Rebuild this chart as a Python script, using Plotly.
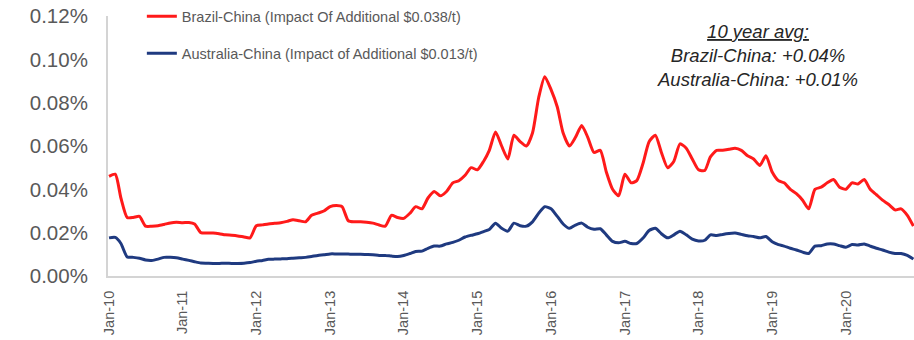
import pandas as pd
import plotly.graph_objects as go

# Monthly series, Jan-2010 onwards (values in %)
months = pd.date_range("2010-01-01", periods=132, freq="MS")

brazil_china = [
    0.046, 0.047, 0.036, 0.027, 0.027, 0.0275, 0.023, 0.023, 0.0232, 0.0238, 0.0245, 0.0248,
    0.0246, 0.0247, 0.024, 0.020, 0.0198, 0.0198, 0.0195, 0.019, 0.0188, 0.0185, 0.018, 0.0176,
    0.0232, 0.0236, 0.024, 0.0243, 0.0246, 0.0252, 0.026, 0.0255, 0.025, 0.028, 0.029, 0.030,
    0.032, 0.0325, 0.032, 0.0255, 0.025, 0.025, 0.0248, 0.0244, 0.0235, 0.023, 0.028, 0.027,
    0.0266, 0.029, 0.032, 0.031, 0.036, 0.039, 0.037, 0.039, 0.043, 0.044, 0.0465, 0.050,
    0.049, 0.053, 0.058, 0.0665, 0.060, 0.054, 0.065, 0.062, 0.060, 0.066, 0.0825, 0.092,
    0.086, 0.078, 0.066, 0.060, 0.064, 0.0695, 0.064, 0.057, 0.058, 0.048, 0.040, 0.037,
    0.047, 0.043, 0.044, 0.052, 0.062, 0.065, 0.057, 0.050, 0.053, 0.061, 0.059, 0.054,
    0.049, 0.0487, 0.055, 0.058, 0.058, 0.0585, 0.059, 0.058, 0.0555, 0.054, 0.051, 0.0555,
    0.048, 0.044, 0.043, 0.040, 0.038, 0.035, 0.031, 0.040, 0.041, 0.043, 0.0445, 0.041,
    0.040, 0.043, 0.0425, 0.0445, 0.040, 0.0375, 0.035, 0.033, 0.0305, 0.031, 0.028, 0.023,
]

australia_china = [
    0.0176, 0.0178, 0.015, 0.0088, 0.0086, 0.0082, 0.0074, 0.0072, 0.0078, 0.0086, 0.0086, 0.0084,
    0.0078, 0.0072, 0.0066, 0.0060, 0.0059, 0.0058, 0.0058, 0.0059, 0.0058, 0.0058, 0.0059, 0.0062,
    0.0068, 0.0072, 0.0077, 0.0078, 0.0079, 0.0080, 0.0082, 0.0084, 0.0086, 0.0090, 0.0095, 0.0098,
    0.0102, 0.0102, 0.0102, 0.0101, 0.0100, 0.0100, 0.0099, 0.0098, 0.0095, 0.0095, 0.0092, 0.0090,
    0.0095, 0.0104, 0.0113, 0.0115, 0.0128, 0.0138, 0.0138, 0.0148, 0.0155, 0.0165, 0.018, 0.0188,
    0.0195, 0.0205, 0.0215, 0.0244, 0.022, 0.0207, 0.0244, 0.0232, 0.023, 0.025, 0.029, 0.032,
    0.031, 0.0275, 0.024, 0.022, 0.0235, 0.0244, 0.0225, 0.0216, 0.0218, 0.019, 0.016, 0.0153,
    0.016, 0.015, 0.015, 0.0175, 0.021, 0.022, 0.0195, 0.0176, 0.019, 0.0207, 0.019, 0.017,
    0.0162, 0.0165, 0.019, 0.0187, 0.0192, 0.0196, 0.0198, 0.0192, 0.0186, 0.0182, 0.0176, 0.0182,
    0.0158, 0.0145, 0.0138, 0.0128, 0.012, 0.011, 0.0104, 0.0138, 0.014, 0.0148, 0.0148, 0.014,
    0.0133, 0.0145, 0.0143, 0.0148, 0.0138, 0.0128, 0.012, 0.011, 0.0104, 0.0104, 0.0095, 0.0078,
]

series_names = [
    "Brazil-China (Impact Of Additional $0.038/t)",
    "Australia-China (Impact of Additional $0.013/t)",
]
series_colors = ["#ff1a1a", "#1f3a80"]

y_ticks = [0.0, 0.02, 0.04, 0.06, 0.08, 0.10, 0.12]
x_ticks = pd.date_range("2010-01-01", "2020-01-01", freq="YS")

avg_note = [
    "<u>10 year avg:</u>",
    "Brazil-China: +0.04%",
    "Australia-China: +0.01%",
]

fig = go.Figure()
for name, vals, col in zip(series_names, [brazil_china, australia_china], series_colors):
    fig.add_trace(go.Scatter(
        x=months, y=vals, mode="lines", name=name, legendgroup=name,
        line=dict(color=col, width=3, shape="spline", smoothing=0.6),
    ))

axis_grey = "#d4d4d4"
tick_grey = "#595959"

fig.update_layout(
    width=914, height=340,
    margin=dict(l=108, r=0, t=10, b=64),
    paper_bgcolor="white", plot_bgcolor="white",
    font=dict(family="Liberation Sans, Arial, sans-serif", color=tick_grey),
    showlegend=True,
    legend=dict(
        x=0.042, y=1.06, xanchor="left", yanchor="top",
        bgcolor="rgba(0,0,0,0)", font=dict(size=14.5, color=tick_grey),
        tracegroupgap=15, itemwidth=30,
    ),
    xaxis=dict(
        range=["2009-12-27", "2020-12-04"],
        tickmode="array", tickvals=x_ticks, ticktext=[d.strftime("%b-%y") for d in x_ticks],
        tickangle=-90, tickfont=dict(size=14.5, color=tick_grey),
        showgrid=False, zeroline=False, automargin=False,
        showline=True, linecolor=axis_grey, linewidth=2,
        ticks="", ticklabelstandoff=7,
    ),
    yaxis=dict(
        range=[0, 0.12],
        tickmode="array", tickvals=y_ticks, ticktext=[f"{v:.2f}%" for v in y_ticks],
        tickfont=dict(size=20.5, color=tick_grey),
        showgrid=False, zeroline=False, automargin=False,
        showline=True, linecolor=axis_grey, linewidth=2,
        ticks="", ticklabelstandoff=14,
    ),
)

fig.add_annotation(
    xref="paper", yref="paper", x=0.806, y=0.848,
    xanchor="center", yanchor="middle", align="center",
    text="<br>".join(f"<i>{t}</i>" for t in avg_note),
    showarrow=False,
    font=dict(size=18.5, color="#262626", family="Liberation Sans, Arial, sans-serif"),
)

fig.write_html("out.html")
